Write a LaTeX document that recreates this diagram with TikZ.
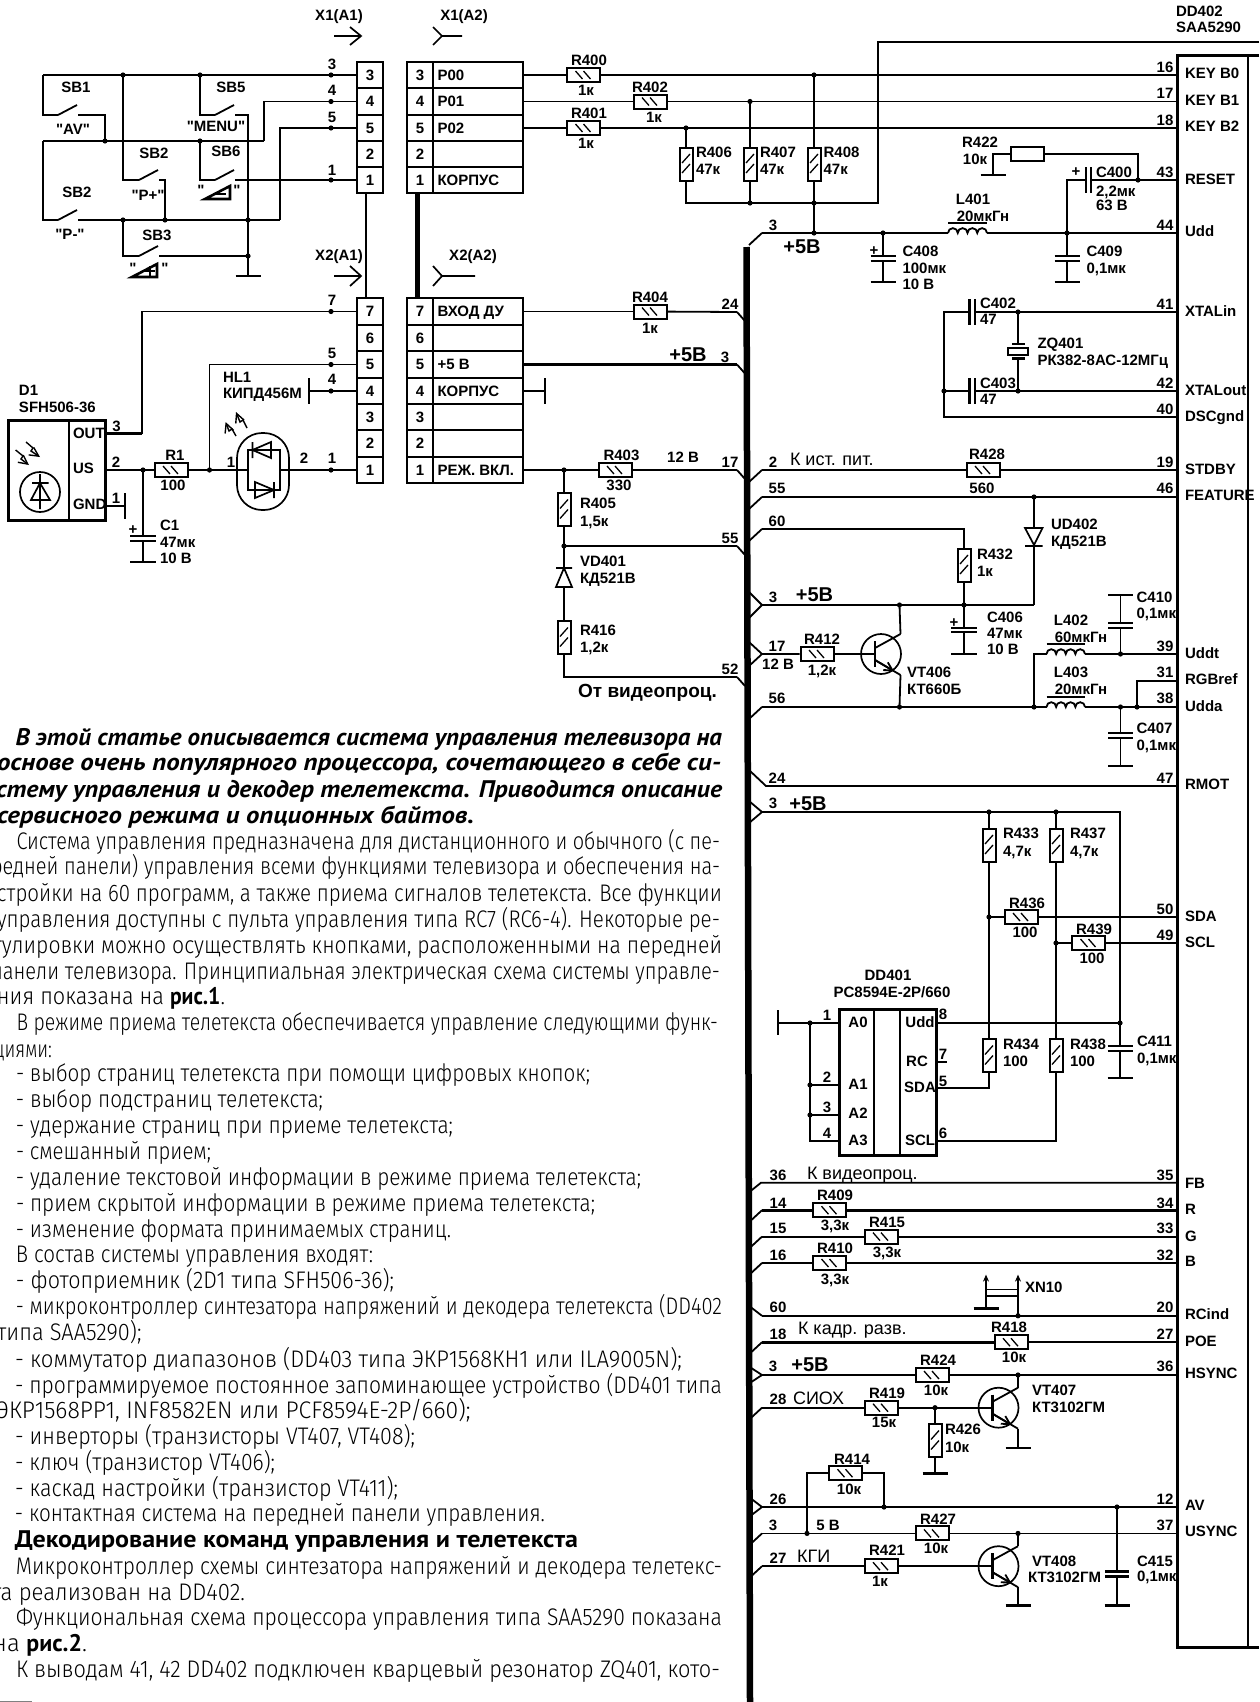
\documentclass[tikz,border=0pt]{standalone}
\usepackage{fontspec}
\usepackage{graphicx}
\usetikzlibrary{arrows.meta}
\setmainfont{Liberation Sans}
\newfontfamily\qf{Liberation Sans}
\newfontfamily\bodyf{PT Sans}
\newfontfamily\bodyl{Fira Sans Light}
\newcounter{lc}
\newcommand\lbf{\fontsize{15}{15}\selectfont\bfseries}
\newcommand\LC[3]{\stepcounter{lc}\node[lbl](l\arabic{lc}) at (#1,#2){#3};}
\newcommand\LW[3]{\stepcounter{lc}\node[lbl,anchor=west](l\arabic{lc}) at (#1,#2){#3};}
\newcommand\LB[3]{\stepcounter{lc}\node[lbig](l\arabic{lc}) at (#1,#2){#3};}
\newcommand\LN[3]{\stepcounter{lc}\node[lnorm,anchor=west](l\arabic{lc}) at (#1,#2){#3};}
\newcommand\Pt[3]{\coordinate (#1) at (#2,#3);}
\newcommand\J[3]{\coordinate (#1) at (#2,#3);\fill (#1) circle[radius=2.6];}
\newcommand\Rh[3]{\node[resh](#1) at (#2,#3){};}
\newcommand\Rv[3]{\node[resv](#1) at (#2,#3){};}
\newcommand\Gnd[4]{\coordinate (#1) at (#2,#3);\draw[twire] (#2-#4,#3)--(#2+#4,#3);}
\newcommand\CapV[5]{\coordinate (#1a) at (#2,#3);\coordinate (#1b) at (#2,#4);\draw[twire] (#2-#5,#3)--(#2+#5,#3) (#2-#5,#4)--(#2+#5,#4);}
\newcommand\CapH[5]{\coordinate (#1a) at (#2,#4);\coordinate (#1b) at (#3,#4);\draw[twire] (#2,#4-#5)--(#2,#4+#5) (#3,#4-#5)--(#3,#4+#5);}
\newcommand\Ind[4]{\coordinate (#1a) at (#2,#4);\coordinate (#1b) at (#3,#4);\pgfmathsetmacro\indr{(#3-#2)/8}%
 \draw[wire] (#1a) arc[start angle=180,end angle=360,radius=\indr] arc[start angle=180,end angle=360,radius=\indr] arc[start angle=180,end angle=360,radius=\indr] arc[start angle=180,end angle=360,radius=\indr];
 \draw[twire] (#2,#4-10)--(#3,#4-10);}
\newcommand\Sw[3]{\coordinate (#1a) at (#2,#3);\coordinate (#1b) at (#2+20,#3);\draw[wire] (#1a)--(#2+19,#3-10);}
\newcommand\Tr[3]{\node[circle,draw,line width=1.7pt,minimum size=40,inner sep=0pt](#1) at (#2,#3){};
 \coordinate (#1B) at (#2-6,#3);\coordinate (#1C) at (#2+19.5,#3-20);\coordinate (#1E) at (#2+19.5,#3+21);
 \draw[twire] (#2-6,#3-13)--(#2-6,#3+13);
 \draw[wire] (#2-6,#3-6)--(#1C);
 \draw[wire] (#2-6,#3+6)--(#1E);
 \draw[wire,-{Straight Barb[length=8pt,width=9pt]}] (#2-6,#3+6)--(#2+13,#3+17.2);}
\newcommand\BusR[2]{\coordinate (#1) at (762,#2);\draw[wire] (749,#2+12)--(#1);}
\newcommand\BusD[2]{\coordinate (#1) at (762,#2);\draw[wire] (749,#2-10)--(#1);}
\newcommand\BusT[3]{\coordinate (#1) at (762,#2);\draw[wire] (749,#2-#3)--(#1)--(749,#2+#3);}
\newcommand\BusL[2]{\coordinate (#1) at (737,#2);\draw[wire] (#1)--(745,#2+9);}
\newcommand\Pin[5]{\coordinate (k#1) at (1177.5,#5);\LC{1165}{#2}{#1}\LW{1185}{#4}{#3}}
\newcommand\Cell[5]{\node[cell,minimum width=#4](#1) at (#2,#3){#5};}
\newcommand\TL[5]{\stepcounter{lc}\pgfmathsetlengthmacro\tlw{#2-(#1)}\node[anchor=base west,inner sep=0pt,outer sep=0pt](l\arabic{lc}) at (#1,#3+7){\resizebox{\tlw}{\height}{#4\fontsize{24}{24}\selectfont #5}};}
\newcommand\TR[4]{\TL{#1}{#2}{#3}{\bodyl}{#4}}
\newcommand\TB[1]{{\bodyf\bfseries #1}}
\tikzset{
 wire/.style={line width=1.8pt},
 twire/.style={line width=2.6pt},
 lbl/.style={font=\lbf,inner sep=0pt,outer sep=0pt,text height=10.8pt,text depth=0pt},
 lbig/.style={font=\fontsize{20}{20}\selectfont\bfseries,inner sep=0pt,outer sep=0pt,text height=14pt,text depth=0pt},
 lnorm/.style={font=\fontsize{18}{18}\selectfont,inner sep=0pt,outer sep=0pt,text height=13pt,text depth=0pt},
 resh/.style={draw,line width=2pt,minimum width=33,minimum height=14,inner sep=0pt,fill=white,
   path picture={\draw[line width=1.3pt] (-8,-4)--(-1,4) (0,-4)--(7,4);}},
 resv/.style={draw,line width=2pt,minimum width=13,minimum height=33,inner sep=0pt,fill=white,
   path picture={\draw[line width=1.3pt] (-4,-1)--(4,-10) (-4,9)--(4,0);}},
 resp/.style={draw,line width=2pt,minimum width=33,minimum height=14,inner sep=0pt},
 cell/.style={draw,line width=2pt,minimum height=26.3,inner sep=0pt,font=\lbf},
 symb/.style={line width=1.7pt},
 arrowo/.style={line width=1.4pt,-{Straight Barb[length=9pt,width=9pt]}},
}
\begin{document}
\begin{tikzpicture}[x=1pt,y=-1pt]
\useasboundingbox (0,0) rectangle (1259,1702);
\fill[white] (0,0) rectangle (1259,1702);
%---------- headers
\LC{339}{15}{X1(A1)}\LC{464}{15}{X1(A2)}\LC{339}{255}{X2(A1)}\LC{473}{255}{X2(A2)}
\draw[symb] (334,36)--(361,36) (350,27)--(361,36)--(350,45);
\draw[symb] (462,36)--(442,36) (433,27)--(442,36)--(433,45);
\draw[symb] (334,276)--(361,276) (350,266)--(361,276)--(350,286);
\draw[symb] (475,276)--(442,276) (433,266)--(442,276)--(433,286);
%---------- connector cells
\foreach \n/\y/\t in {3/75/3,4/101.5/4,5/128/5,2/154.3/2,1/180/1}{
  \Cell{xa\n}{370}{\y}{26}{\t}
  \Cell{xcn\n}{420}{\y}{26}{\t}
  \Cell{xc\n}{478}{\y}{90}{}
}
\foreach \n/\y/\t in {7/311.5/7,6/338/6,5/364.5/5,4/391/4,3/417/3,2/443.5/2,1/470/1}{
  \Cell{xb\n}{370}{\y}{26}{\t}
  \Cell{xdn\n}{420}{\y}{26}{\t}
  \Cell{xd\n}{478}{\y}{90}{}
}
\LW{437.5}{75}{P00}\LW{437.5}{101.5}{P01}\LW{437.5}{128}{P02}\LW{437.5}{180}{КОРПУС}
\LW{437.5}{311.5}{ВХОД ДУ}\LW{437.5}{364.5}{+5 В}\LW{437.5}{391}{КОРПУС}\LW{437.5}{470}{РЕЖ. ВКЛ.}
\draw[wire] ([xshift=-4pt]xa1.south)--([xshift=-4pt]xb7.north);
\draw[line width=4.5pt] ([xshift=-2.5pt]xcn1.south)--([xshift=-2.5pt]xdn7.north);
%---------- switches
\Pt{a1}{43}{75}\J{a2}{123}{75}\J{a3}{200}{75}\J{a4}{331}{75}
\Pt{b0}{43}{141}\J{b1}{105}{141}\J{b2}{200}{141}\Pt{b3}{264}{141}\J{d4}{331}{101.5}
\Sw{s1}{58}{115}\Sw{s2}{58}{220}\Sw{s3}{139}{180}\Sw{s4}{215}{115}\Sw{s5}{215}{180}\Sw{s6}{139}{256}
\J{c1}{123}{220}\J{c2}{165}{220}\J{c3}{248}{220}\Pt{c4}{280}{220}\J{d5}{331}{128}\J{d1}{331}{180}\J{e1}{248}{256}
\Gnd{g1}{248}{276}{12.5}
\draw[twire] (a1)--(xa3);
\draw[wire] (a1)|-(s1a) (s1b)-|(b1);
\draw[twire] (b0)--(b3);
\draw[wire] (b3)|-(xa4);
\draw[wire] (b0)|-(s2a);
\draw[twire] (s2b)--(c4);
\draw[wire] (c4)|-(xa5);
\draw[wire] (a2)|-(s3a) (s3b)-|(c2);
\draw[wire] (a3)|-(s4a) (s4b)-|(g1);
\draw[wire] (b2)|-(s5a) (s5b)--(xa1);
\draw[wire] (c1)|-(s6a) (s6b)--(e1);
\LC{76}{87}{SB1}\LC{73}{129}{\qf"AV"}\LC{231}{87}{SB5}\LC{216}{126}{\qf"MENU"}\LC{154}{153}{SB2}\LC{226}{151}{SB6}
\LC{77}{192}{SB2}\LC{148}{195}{\qf"P+"}\LC{70}{234}{\qf"P-"}\LC{157}{235}{SB3}
\LC{332}{64}{3}\LC{332}{90}{4}\LC{332}{117}{5}\LC{332}{170}{1}
\LC{201}{190}{\qf"}\LC{237}{190}{\qf"}\LC{133}{268}{\qf"}\LC{165}{268}{\qf"}
\draw[twire] (205,199)--(230,186)--(230,199)--cycle;
\draw[wire] (216,194)--(226,194);
\draw[twire] (132,277)--(157,264)--(157,277)--cycle;
\draw[wire] (145,271)--(155,271) (150,266)--(150,276);
%---------- X2 left side
\J{f7}{331}{311.5}\Pt{f7b}{142}{433.6}\Pt{d1o}{105}{433.6}
\draw[wire] (xb7.west)-|(f7b);
\draw[twire] (f7b)--(d1o);
\LC{332}{300}{7}
\node[draw,line width=3pt,minimum width=96.5,minimum height=100,inner sep=0pt](D1) at (57,470){};
\draw[wire] (69,420)--(69,520);
\LW{19}{390}{D1}\LW{19}{407}{SFH506-36}
\LW{73}{433}{OUT}\LW{73}{468}{US}\LW{73}{504}{GND}
\LC{116.5}{426}{3}\LC{116}{462}{2}\LC{116}{498}{1}
\node[draw,circle,line width=1.7pt,minimum size=40,inner sep=0pt](PD) at (40,492){};
\draw[symb] (40,474)--(40,509) (32,483)--(48.6,483) (40,483)--(31,500)--(50,500)--cycle;
\draw[arrowo] (15.6,450)--(23,456)--(21,459)--(29,465);
\draw[arrowo] (26,442)--(33,448)--(31,451)--(40,457);
\Pt{d1u}{105}{470}\Pt{d1g}{105}{506}\Gnd{g2}{125}{506}{0}
\draw[wire] (125,493)--(125,519);
\draw[twire] (d1g)--(g2);
\Rh{R1}{171}{470}\J{h1}{143}{470}\J{h2}{209.5}{470}
\LC{175}{455}{R1}\LC{173}{485}{100}
\CapV{c1c}{143}{536}{541}{13}\Gnd{g3}{143}{562}{13}
\draw[wire] (d1u)--(R1) (h1)--(c1ca) (c1cb)--(g3);
\LC{133}{529}{+}\LW{160}{525}{C1}\LW{160}{542}{47мк}\LW{160}{558}{10 В}
\Pt{hl}{248}{470}\Pt{hr}{280}{470}
\node[draw,line width=1.7pt,rounded corners=25pt,minimum width=52,minimum height=77,inner sep=0pt](HL1) at (263,471.5){};
\draw[wire] (R1)--(hl);
\J{f1}{331}{470}\J{f5}{331}{364.5}\J{f4}{331}{391}
\draw[wire] (hr)--(xb1);
\draw[wire] (h2)|-(xb5);
\Pt{hb}{309}{391}
\draw[wire] (hb)--(xb4);
\draw[wire] (309,378)--(309,404);
\draw[wire] (248,450)--(248,490)--(280,490)--(280,450)--cycle;
\draw[symb] (271,442)--(271,458)--(252.5,450)--cycle (252.5,442)--(252.5,458);
\draw[symb] (255,482)--(255,498)--(274,490)--cycle (274,482)--(274,498);
\draw[arrowo] (236,436)--(232,429)--(229,431)--(225.6,422);
\draw[arrowo] (247,428)--(243,420)--(240,422)--(236,412);
\LC{231}{462}{1}\LC{304}{458}{2}\LC{332}{458}{1}\LC{332}{353}{5}\LC{332}{379}{4}
\LW{223}{377}{HL1}\LW{223}{393}{КИПД456М}
%---------- X1 right side
\Rh{R400}{583.5}{75}\Rh{R401}{583.5}{128}\Rh{R402}{650}{101.5}\Rh{R404}{650}{311.5}\Rh{R403}{615}{470}
\LC{589}{60}{R400}\LC{586}{90}{1к}\LC{589}{113}{R401}\LC{586}{143}{1к}\LC{650}{87}{R402}\LC{654}{117}{1к}
\LC{650}{297}{R404}\LC{650}{328}{1к}\LC{621.5}{455}{R403}\LC{619}{485}{330}\LC{683}{457}{12 В}
\Pin{16}{67}{KEY B0}{73}{75}\Pin{17}{93}{KEY B1}{100}{101.5}\Pin{18}{120}{KEY B2}{126}{128}
\Pin{43}{172}{RESET}{179}{180}\Pin{44}{225}{Udd}{231}{233}\Pin{41}{304}{XTALin}{311}{312}
\Pin{42}{383}{XTALout}{390}{391}\Pin{40}{409}{DSCgnd}{416}{417}\Pin{19}{462}{STDBY}{469}{470}
\Pin{46}{488}{FEATURE}{495}{497}\Pin{39}{646}{Uddt}{653}{654}\Pin{31}{672}{RGBref}{679}{681}
\Pin{38}{698}{Udda}{706}{707}\Pin{47}{778}{RMOT}{784}{786}\Pin{50}{909}{SDA}{916}{917}\Pin{49}{935}{SCL}{942}{943}
\Pin{35}{1175.4}{FB}{1182.7}{1182.7}\Pin{34}{1202.8}{R}{1209.2}{1210.2}\Pin{33}{1228.2}{G}{1235.6}{1236.6}\Pin{32}{1254.6}{B}{1260.9}{1263}
\Pin{20}{1307.4}{RCind}{1313.7}{1315.8}\Pin{27}{1333.8}{POE}{1341.2}{1342.2}\Pin{36}{1366.5}{HSYNC}{1372.9}{1375}
\Pin{12}{1498.6}{AV}{1504.9}{1507}\Pin{37}{1525}{USYNC}{1531.3}{1533.4}
\draw[line width=3.2pt] (1259,55.7)--(1177.5,55.7)--(1177.5,1647.5)--(1259,1647.5);
\draw[line width=2pt] (1248,55.7)--(1248,1647.5);
\LW{1176}{11}{DD402}\LW{1176}{27}{SAA5290}
\draw[twire] (xc3)--(R400) (R400)--(k16);
\draw[wire] (xc4)--(R402) (R402)--(k17);
\draw[twire] (xc5)--(R401) (R401)--(k18);
\draw[wire] (xd7)--(R404);
\Pt{t1}{878}{42}\Pt{t2}{1259}{42}\Pt{u0}{686}{203}\J{u1}{750}{203}\J{u2}{814}{203}\Pt{u3}{878}{203}
\J{n1}{686}{128}\J{n2}{750}{101.5}\J{n3}{814}{75}\J{v1}{814}{233}
\Rv{R406}{686}{164}\Rv{R407}{750}{164}\Rv{R408}{814}{164}
\draw[wire] (t2)--(t1)--(u3)--(u0)--(R406) (R406)--(n1) (R407)--(n2) (R407)--(u1) (R408)--(n3) (R408)--(v1);
\LW{696}{152}{R406}\LW{696}{169}{47к}\LW{760}{152}{R407}\LW{760}{169}{47к}\LW{823.6}{152}{R408}\LW{823.6}{169}{47к}
%---------- bus
\coordinate (busT) at (746.5,247);\coordinate (busB) at (750,1702);
\draw[line width=6.5pt] (busT)--(busB);
\BusR{v0}{233}\Ind{L401}{948}{987}{233}\J{v2}{883}{233}\J{v3}{1067}{233}
\draw[wire] (v0)--(L401a) (L401b)--(k44);
\LC{773}{225}{3}\LB{802}{246}{+5В}\LC{973}{199}{L401}\LC{983}{216}{20мкГн}
\CapV{c408}{883}{256}{261}{12.5}\Gnd{g408}{883}{282}{12.5}
\draw[wire] (v2)--(c408a) (c408b)--(g408);
\LC{874}{250}{+}\LW{902.5}{251}{C408}\LW{902.5}{268}{100мк}\LW{902.5}{284}{10 В}
\CapV{c409}{1067}{256}{261}{12.5}\Gnd{g409}{1067}{282}{12.5}
\draw[wire] (v3)--(c409a) (c409b)--(g409);
\LW{1086.5}{251}{C409}\LW{1086.5}{268}{0,1мк}
% reset
\node[resp](R422) at (1027.5,154){};
\Pt{r1}{993}{154}\Gnd{g422}{993}{175}{12.5}\J{r2}{1138}{180}
\draw[wire] (g422)|-(R422) (R422)-|(r2);
\CapH{c400}{1086}{1091}{180}{13}\Pt{r3}{1067}{180}
\draw[wire] (k43)--(c400b) (c400a)--(r3)--(v3);
\LC{980}{142}{R422}\LC{975}{159}{10к}\LC{1076}{171}{+}\LW{1096}{172}{C400}\LW{1096}{191}{2,2мк}\LW{1096}{205}{63 В}
% crystal
\J{z1}{1018}{312}\J{z2}{1018}{391}\J{z3}{944}{391}\Pt{z0}{944}{312}\Pt{z4}{944}{417}
\CapH{c402}{969.6}{975}{312}{13}\CapH{c403}{969.6}{975}{391}{13}
\node[draw,line width=1.9pt,minimum width=20,minimum height=7,inner sep=0pt](ZQ401) at (1018,351.5){};
\draw[twire] (1012,344)--(1024.5,344) (1012,358.5)--(1024.5,358.5);
\Pt{z5}{1018}{344}\Pt{z6}{1018}{358.5}
\draw[wire] (k41)--(c402b) (c402a)--(z0)--(z4)--(k40) (z3)--(c403a) (c403b)--(k42) (z1)--(z5) (z6)--(z2);
\LW{980}{303}{C402}\LW{980}{319}{47}\LW{980}{383}{C403}\LW{980}{399}{47}
\LW{1037.5}{343}{ZQ401}\LW{1037.5}{360}{РК382-8АС-12МГц}
%---------- left stubs
\BusL{w24}{312}\draw[wire] (R404)--(w24);\LC{730}{304}{24}
\BusL{w3}{364.5}\draw[twire] (xd5)--(w3);\LB{688}{354}{+5В}\LC{725}{357}{3}
\Pt{kb}{545}{391}\draw[wire] (xd4)--(kb);\draw[wire] (545,378)--(545,404);
\J{m1}{564}{470}\J{m2}{564}{546}\BusL{w17}{470}\BusL{w55}{546}\BusL{w52}{677}\Pt{m3}{564}{677}
\Rv{R405}{564}{509.5}\Rv{R416}{564}{637.5}\Pt{vda}{564}{568}\Pt{vdb}{564}{587}
\draw[wire] (xd1)--(R403) (R403)--(w17) (m1)--(R405) (R405)--(m2)--(vda) (vdb)--(R416) (R416)--(m3)--(w52) (m2)--(w55);
\draw[symb] (556,568)--(572,568) (564,568)--(556,587)--(572,587)--cycle;
\LC{730}{462}{17}\LC{730}{538}{55}\LC{730}{669}{52}
\LW{580}{503}{R405}\LW{580}{521}{1,5к}\LW{580}{561}{VD401}\LW{580}{578}{КД521В}\LW{580}{630}{R416}\LW{580}{647}{1,2к}
\stepcounter{lc}\node[lbig,font=\fontsize{19}{19}\selectfont\bfseries](l\arabic{lc}) at (647.5,690){От видеопроц.};
%---------- middle
\BusR{y2}{470}\Rh{R428}{983}{470}
\draw[wire] (y2)--(R428) (R428)--(k19);
\LC{773}{462}{2}\LN{790}{459}{К ист. пит.}\LC{987}{454}{R428}\LC{982}{488}{560}
\BusR{y55}{497}\J{y5}{1034}{497}\Pt{ud1}{1034}{528}\Pt{ud2}{1034}{546}\Pt{w1}{1034}{605}
\draw[wire] (y55)--(k46) (y5)--(ud1) (ud2)--(w1);
\draw[symb] (1025,528)--(1042.5,528)--(1034,545)--cycle (1025,546)--(1042.5,546);
\LC{777}{488}{55}\LW{1051}{524}{UD402}\LW{1051}{541}{КД521В}
\BusR{y60}{529}\Pt{y61}{964}{529}\Rv{R432}{964}{565}\J{w2}{964}{605}\J{w3b}{899.5}{605}
\draw[wire] (y60)--(y61)--(R432) (R432)--(w2);
\LC{777}{521}{60}\LW{977}{554}{R432}\LW{977}{571}{1к}
\BusT{w0}{605}{13}\draw[wire] (w0)--(w1);
\LC{773}{597}{3}\LB{814.5}{594}{+5В}
\CapV{c406}{964}{628}{632}{13}\Gnd{g406}{964}{654}{13}
\draw[wire] (w2)--(c406a) (c406b)--(g406);
\LC{954}{622}{+}\LW{987}{617}{C406}\LW{987}{633}{47мк}\LW{987}{649}{10 В}
\BusT{y17}{654}{12}\Rh{R412}{817}{654}\Tr{VT406}{881}{654}
\draw[wire] (y17)--(R412) (R412)--(VT406B) (VT406C)--(w3b);
\J{y6}{899.5}{707}\J{y7}{1034}{707}\J{y8}{1120.5}{707}\J{y9}{1137}{707}
\draw[wire] (VT406E)--(y6);
\LC{777}{646}{17}\LC{778}{664}{12 В}\LC{822}{639}{R412}\LC{822}{670}{1,2к}
\LW{907}{672}{VT406}\LW{907}{689}{КТ660Б}
\BusR{y56}{707}\Ind{L403}{1046.5}{1085}{707}\Ind{L402}{1046.5}{1085}{654}
\Pt{y71}{1034}{654}\J{y72}{1120.5}{654}\Pt{y73}{1137}{681}
\draw[wire] (y56)--(L403a) (L403b)--(k38) (y7)--(y71)--(L402a) (L402b)--(k39) (y9)--(y73)--(k31);
\LC{777}{698}{56}\LC{1071}{620}{L402}\LC{1081}{637}{60мкГн}\LC{1071}{672}{L403}\LC{1081}{689}{20мкГн}
\CapV{c410}{1120.5}{623}{628}{12.5}\Gnd{g410}{1120.5}{595}{12.5}
\draw[wire] (y72)--(c410b) (c410a)--(g410);
\LW{1136.6}{597}{C410}\LW{1136.6}{613}{0,1мк}
\CapV{c407}{1120.5}{733}{738}{12.5}\Gnd{g407}{1120.5}{766}{12.5}
\draw[wire] (y8)--(c407a) (c407b)--(g407);
\LW{1136.6}{728}{C407}\LW{1136.6}{745}{0,1мк}
\coordinate (y24) at (766,786);\draw[wire] (749,770)--(y24)--(k47);\LC{777}{778}{24}
%---------- memory
\BusT{a50}{812}{11}\J{a51}{989}{812}\J{a52}{1056}{812}\Pt{a53}{1120}{812}\J{a54}{1120}{1023}
\Rv{R433}{989}{845}\Rv{R437}{1056}{845}\Rv{R434}{989}{1055.5}\Rv{R438}{1056}{1055.5}
\J{a55}{989}{917}\J{a56}{1056}{943}\Rh{R436}{1021}{917}\Rh{R439}{1088.5}{943}
\node[draw,line width=3pt,minimum width=97,minimum height=146,inner sep=0pt](DD401) at (887.5,1082){};
\draw[line width=2.4pt] (874,1009)--(874,1155) (900,1009)--(900,1155);
\Pt{b8}{937}{1023}\Pt{b5}{937}{1088}\Pt{b6}{937}{1141}\Pt{b5b}{989}{1088}\Pt{b6b}{1056}{1141}
\draw[wire] (a50)--(a53)--(a54);
\draw[wire] (a51)--(R433) (R433)--(R434) (R434)--(b5b)--(b5);
\draw[wire] (a52)--(R437) (R437)--(R438) (R438)--(b6b)--(b6);
\draw[wire] (a55)--(R436) (R436)--(k50) (a56)--(R439) (R439)--(k49) (b8)--(a54);
\LC{773}{803}{3}\LB{808}{803}{+5В}
\LW{1003}{833}{R433}\LW{1003}{851}{4,7к}\LW{1070}{833}{R437}\LW{1070}{851}{4,7к}
\LW{1003}{1044}{R434}\LW{1003}{1061}{100}\LW{1070}{1044}{R438}\LW{1070}{1061}{100}
\LC{1027}{903}{R436}\LC{1025}{932}{100}\LC{1094}{929}{R439}\LC{1092}{958}{100}
\LC{888}{975}{DD401}\LC{892}{992}{PC8594E-2P/660}
\LC{943}{1014}{8}\LC{943}{1054}{7}\LC{943}{1081}{5}\LC{943}{1133}{6}
\draw[wire] (937,1062)--(947,1062);
\LC{920}{1022}{Udd}\LC{917}{1061}{RC}\LC{920}{1087}{SDA}\LC{920}{1140}{SCL}
\LC{858}{1022}{A0}\LC{858}{1084}{A1}\LC{858}{1113}{A2}\LC{858}{1140}{A3}
\Pt{p1}{838}{1023}\J{p2}{810}{1023}\J{p3}{810}{1085}\J{p4}{810}{1115}\Pt{p5}{810}{1141}\Pt{p6}{838}{1141}\Pt{p7}{778}{1023}\Pt{p8}{838}{1085}\Pt{p9}{838}{1115}
\draw[wire] (p7)--(p1) (p2)--(p5)--(p6) (p3)--(p8) (p4)--(p9);
\draw[wire] (778,1010)--(778,1035);
\LC{827}{1015}{1}\LC{827}{1077}{2}\LC{827}{1107}{3}\LC{827}{1133}{4}
\CapV{c411}{1120}{1046}{1051}{12.5}\Gnd{g411}{1120}{1078}{12.5}
\draw[wire] (a54)--(c411a) (c411b)--(g411);
\LW{1137}{1041}{C411}\LW{1137}{1058}{0,1мк}
%---------- video
\coordinate (z36) at (761,1182.7);\draw[wire] (749,1192.3)--(z36)--(k35);
\LC{778}{1175.4}{36}\LN{807}{1173.2}{К видеопроц.}
\BusR{z14}{1210.2}\Rh{R409}{829.5}{1210.2}\draw[twire] (z14)--(R409) (R409)--(k34);
\LC{778}{1202.8}{14}\LC{835}{1195.4}{R409}\LC{835}{1225}{3,3к}
\BusR{z15}{1236.6}\Rh{R415}{881}{1236.6}\draw[wire] (z15)--(R415) (R415)--(k33);
\LC{778}{1228.2}{15}\LC{887}{1221.8}{R415}\LC{887}{1252.5}{3,3к}
\BusR{z16}{1263}\Rh{R410}{829.5}{1263}\draw[wire] (z16)--(R410) (R410)--(k32);
\LC{778}{1254.6}{16}\LC{835}{1248.2}{R410}\LC{835}{1278.9}{3,3к}
\BusD{z60}{1315.8}\J{z61}{1018}{1315.8}\draw[wire] (z60)--(k20);\LC{778}{1307.4}{60}
\Pt{xa}{986}{1274.6}\Pt{xb}{1018}{1274.6}\Gnd{xg}{986}{1308.4}{12.5}
\draw[wire,-{Stealth[length=7pt,width=6pt]}] (xg)--(xa);
\draw[wire,-{Stealth[length=7pt,width=6pt]}] (z61)--(xb);
\draw[wire] (986,1289.4)--(1018,1289.4) (986,1295.8)--(1018,1295.8);
\LW{1025}{1287.3}{XN10}
\BusR{z18}{1342.2}\Rh{R418}{1011}{1342.2}\draw[twire] (z18)--(R418);\draw[wire] (R418)--(k27);
\LC{778}{1333.8}{18}\LN{798}{1327.5}{К кадр. разв.}\LC{1009}{1327.5}{R418}\LC{1014}{1357}{10к}
\BusT{z3}{1375}{8.5}\Rh{R424}{932}{1375}\J{z31}{1018}{1375}\draw[wire] (z3)--(R424) (R424)--(k36);
\LC{773}{1366.5}{3}\LB{810}{1364.4}{+5В}\LC{938}{1360.2}{R424}\LC{936}{1389.8}{10к}
\BusR{z28}{1407.7}\Rh{R419}{881}{1407.7}\J{z29}{935}{1407.7}\Tr{VT407}{998.5}{1407.7}\Rv{R426}{935}{1440.5}\Gnd{g426}{935}{1473.2}{12.5}\Gnd{g407b}{1018}{1447.9}{12.5}
\draw[wire] (z28)--(R419) (R419)--(VT407B) (z29)--(R426) (R426)--(g426) (VT407C)--(z31) (VT407E)--(g407b);
\LC{778}{1399.3}{28}\LN{793}{1398.2}{СИОХ}\LC{887}{1393}{R419}\LC{884}{1422.5}{15к}\LW{945}{1428.9}{R426}\LW{945}{1446.8}{10к}
\LW{1032}{1389.8}{VT407}\LW{1032}{1406.7}{КТ3102ГМ}
\BusT{z26}{1507}{10}\J{z27}{884}{1507}\J{z2c}{1117}{1507}\draw[twire] (z26)--(k12);
\BusR{z35}{1533.4}\J{z36b}{807}{1533.4}\J{z37}{1018}{1533.4}\Rh{R427}{932}{1533.4}\Rh{R414}{845.5}{1473.2}
\Pt{z38}{807}{1473.2}\Pt{z39}{884}{1473.2}
\draw[wire] (z36b)--(z38)--(R414) (R414)--(z39)--(z27);
\draw[wire] (z35)--(R427) (R427)--(k37);
\LC{778}{1498.6}{26}\LC{773}{1525}{3}\LC{828}{1525}{5 В}\LC{852}{1459.5}{R414}\LC{849}{1489.1}{10к}\LC{938}{1518.7}{R427}\LC{936}{1548.2}{10к}
\BusR{z41}{1566.2}\Rh{R421}{881}{1566.2}\Tr{VT408}{998.5}{1566.2}\Gnd{g408b}{1018}{1605.3}{12.5}
\draw[wire] (z41)--(R421) (R421)--(VT408B) (VT408C)--(z37) (VT408E)--(g408b);
\LC{778}{1557.7}{27}\LN{797}{1555.6}{КГИ}\LC{887}{1550.3}{R421}\LC{880}{1581}{1к}
\LW{1032}{1560.9}{VT408}\LW{1028}{1576.7}{КТ3102ГМ}
\CapV{c415}{1117}{1571.5}{1576.7}{12}\Gnd{g415}{1117}{1605.3}{12.5}
\draw[wire] (z2c)--(c415a) (c415b)--(g415);
\LW{1137}{1560.9}{C415}\LW{1137}{1575.7}{0,1мк}
%---------- article text
\TL{15.6}{722}{738}{\bodyf\bfseries\itshape}{В этой статье описывается система управления телевизора на}
\TL{-3}{721}{763}{\bodyf\bfseries\itshape}{основе очень популярного процессора, сочетающего в себе си-}
\TL{-4}{722}{790}{\bodyf\bfseries\itshape}{стему управления и декодер телетекста. Приводится описание}
\TL{-3}{474}{816}{\bodyf\bfseries\itshape}{сервисного режима и опционных байтов.}
\TR{16.5}{720}{842}{Система управления предназначена для дистанционного и обычного (с пе-}
\TR{-9}{720}{867}{редней панели) управления всеми функциями телевизора и обеспечения на-}
\TR{-3}{722}{894}{стройки на 60 программ, а также приема сигналов телетекста. Все функции}
\TR{-3}{720}{920}{управления доступны с пульта управления типа RC7 (RC6-4). Некоторые ре-}
\TR{-7}{722}{946}{гулировки можно осуществлять кнопками, расположенными на передней}
\TR{-9}{720}{972}{панели телевизора. Принципиальная электрическая схема системы управле-}
\TR{-3}{225}{997}{ния показана на \TB{рис.1}.}
\TR{16.5}{718}{1023}{В режиме приема телетекста обеспечивается управление следующими функ-}
\TR{-6}{52}{1050}{циями:}
\TR{16}{590}{1074}{- выбор страниц телетекста при помощи цифровых кнопок;}
\TR{16}{323}{1100}{- выбор подстраниц телетекста;}
\TR{16}{453}{1126}{- удержание страниц при приеме телетекста;}
\TR{16}{211}{1152}{- смешанный прием;}
\TR{16}{641}{1178}{- удаление текстовой информации в режиме приема телетекста;}
\TR{16}{595}{1204}{- прием скрытой информации в режиме приема телетекста;}
\TR{16}{451}{1230}{- изменение формата принимаемых страниц.}
\TR{16}{373}{1255}{В состав системы управления входят:}
\TR{16}{394}{1281}{- фотоприемник (2D1 типа SFH506-36);}
\TR{16}{722}{1307}{- микроконтроллер синтезатора напряжений и декодера телетекста (DD402}
\TR{-3}{141.5}{1333}{типа SAA5290);}
\TR{15}{682}{1360}{- коммутатор диапазонов (DD403 типа ЭКР1568КН1 или ILA9005N);}
\TR{15}{722}{1386}{- программируемое постоянное запоминающее устройство (DD401 типа}
\TR{-3}{470.5}{1411}{ЭКР1568РР1, INF8582EN или PCF8594E-2P/660);}
\TR{15}{415}{1437}{- инверторы (транзисторы VT407, VT408);}
\TR{15}{275}{1463}{- ключ (транзистор VT406);}
\TR{15}{398}{1489}{- каскад настройки (транзистор VT411);}
\TR{15}{545}{1514}{- контактная система на передней панели управления.}
\TL{15}{578}{1540}{\bodyf\bfseries}{Декодирование команд управления и телетекста}
\TR{16}{722}{1567}{Микроконтроллер схемы синтезатора напряжений и декодера телетекс-}
\TR{-8}{245}{1593}{та реализован на DD402.}
\TR{16}{722}{1618}{Функциональная схема процессора управления типа SAA5290 показана}
\TR{-7}{87}{1644}{на \TB{рис.2}.}
\TR{16}{720}{1670}{К выводам 41, 42 DD402 подключен кварцевый резонатор ZQ401, кото-}
\draw[gray,line width=1pt] (0,1701)--(32,1701);
\end{tikzpicture}
\end{document}
